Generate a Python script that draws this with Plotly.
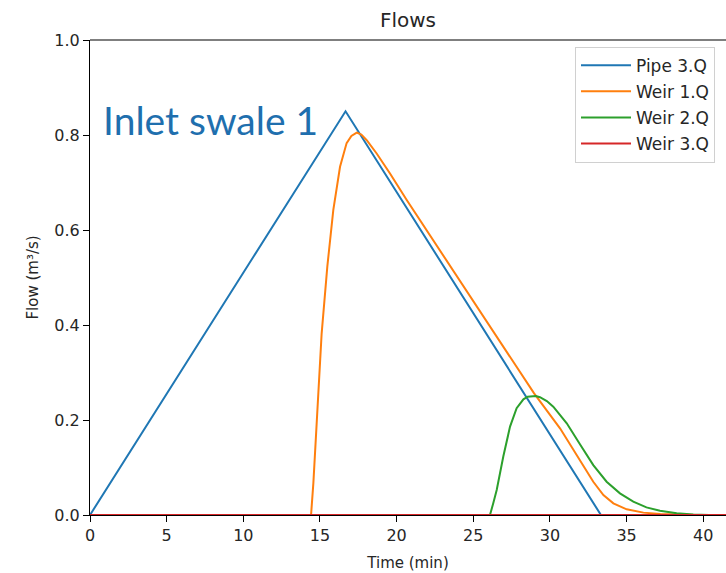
import plotly.graph_objects as go

# ---- data ----
pipe3_t = [0, 16.67, 33.33, 45]
pipe3_q = [0, 0.85, 0, 0]

weir1_t = [0, 14.42, 14.57, 14.74, 14.92, 15.11, 15.48, 15.87, 16.31, 16.74, 17.05, 17.40,
           17.70, 18.05, 18.70, 19.57, 20.66, 28.97, 30.66, 31.30, 31.96, 32.40, 32.83,
           33.49, 34.14, 35.01, 36.1, 37.2, 38.3, 39.5, 45]
weir1_q = [0, 0, 0.067, 0.172, 0.277, 0.382, 0.523, 0.642, 0.733, 0.783, 0.798, 0.805,
           0.801, 0.789, 0.761, 0.719, 0.663, 0.256, 0.1825, 0.150, 0.116, 0.092, 0.070,
           0.042, 0.0246, 0.012, 0.005, 0.002, 0.0005, 0, 0]

weir2_t = [0, 26.09, 26.30, 26.53, 26.96, 27.40, 27.83, 28.27, 28.55, 28.81, 29.08, 29.35,
           29.80, 30.22, 31.1, 31.96, 32.83, 33.70, 34.57, 35.44, 36.3, 37.18, 38.27,
           39.35, 40.4, 45]
weir2_q = [0, 0, 0.024, 0.0526, 0.123, 0.186, 0.225, 0.2435, 0.249, 0.25, 0.2505, 0.248,
           0.240, 0.228, 0.193, 0.149, 0.105, 0.070, 0.0456, 0.028, 0.016, 0.009, 0.0035,
           0.001, 0, 0]

weir3_t = [0, 45]
weir3_q = [0, 0]

series = [
    ("Pipe 3.Q", pipe3_t, pipe3_q, "#1f77b4"),
    ("Weir 1.Q", weir1_t, weir1_q, "#ff7f0e"),
    ("Weir 2.Q", weir2_t, weir2_q, "#2ca02c"),
    ("Weir 3.Q", weir3_t, weir3_q, "#d62728"),
]

x_ticks = [0, 5, 10, 15, 20, 25, 30, 35, 40]
y_ticks = [0.0, 0.2, 0.4, 0.6, 0.8, 1.0]

fig = go.Figure()
for i, (name, t, q, color) in enumerate(series):
    fig.add_trace(go.Scatter(
        x=t, y=q, mode="lines", name=name, legendgroup=f"g{i}",
        line=dict(color=color, width=2),
    ))

font_tick = dict(family="DejaVu Sans", size=16, color="#262626")
font_title = dict(family="DejaVu Sans", size=15, color="#262626")

fig.update_layout(
    width=726, height=573,
    margin=dict(l=90, r=0, t=40, b=58),
    paper_bgcolor="white", plot_bgcolor="white",
    showlegend=True,
    title=dict(text="Flows", x=408 / 726, xref="container", xanchor="center",
               y=1 - 20 / 573, yref="container", yanchor="middle",
               font=dict(family="DejaVu Sans", size=20, color="#262626")),
    legend=dict(x=(575 - 90) / 636, y=0.986, xanchor="left", yanchor="top",
                bgcolor="white", bordercolor="#d0d0d0", borderwidth=1,
                font=dict(family="DejaVu Sans", size=17, color="#262626"),
                itemwidth=50, traceorder="grouped", tracegroupgap=1),
    xaxis=dict(range=[0, (726 - 90) / 15.33], tickvals=x_ticks, ticks="outside",
               ticklen=6, tickwidth=1, tickcolor="black", showgrid=False, zeroline=False,
               showline=True, linecolor="black", linewidth=1, tickfont=font_tick,
               title=dict(text="Time (min)", font=font_title, standoff=13)),
    yaxis=dict(range=[0, 1.0], tickvals=y_ticks, tickformat=".1f", ticks="outside",
               ticklen=6, tickwidth=1, tickcolor="black", showgrid=False, zeroline=False,
               showline=True, linecolor="black", linewidth=1, tickfont=font_tick,
               title=dict(text="Flow (m³/s)", font=font_title, standoff=12)),
    shapes=[dict(type="line", xref="paper", yref="paper", x0=0, x1=1, y0=1, y1=1,
                 line=dict(color="black", width=1.2))],
    annotations=[dict(text="Inlet swale 1", xref="paper", yref="paper",
                      x=(101 - 90) / 636, y=1 - (120 - 40) / 475,
                      xanchor="left", yanchor="middle", showarrow=False,
                      font=dict(family="Lato", size=39, color="#1f6fae"))],
)

fig.write_html("out.html")
